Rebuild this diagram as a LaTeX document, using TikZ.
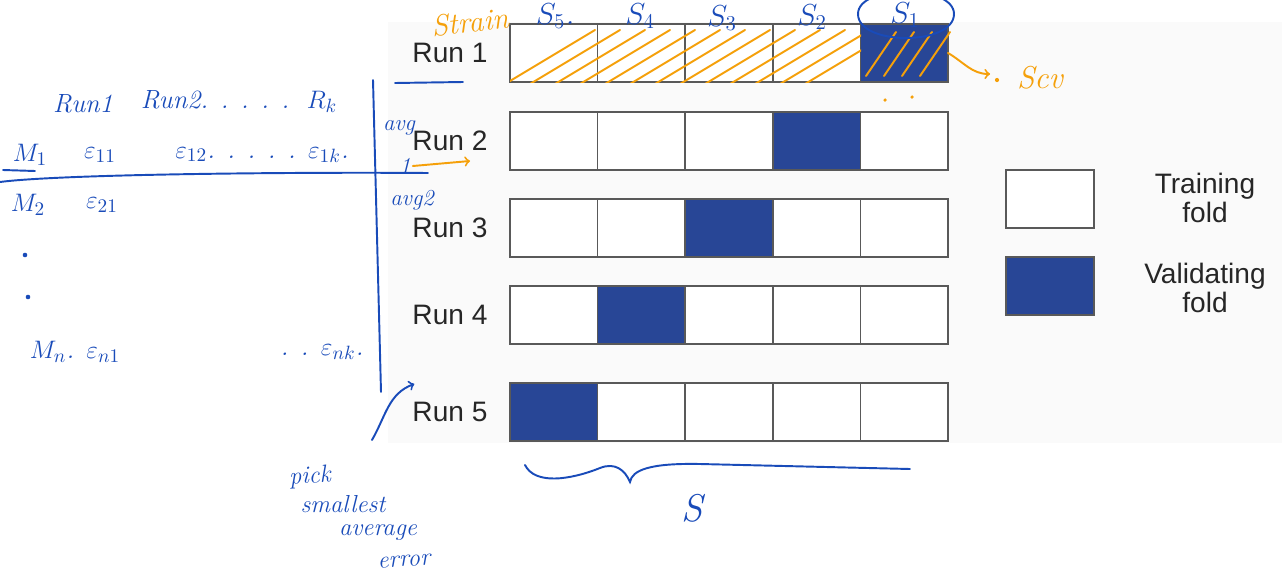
\documentclass[tikz,border=0pt]{standalone}
\usepackage{fontspec}
\setsansfont{Liberation Sans}
\usetikzlibrary{positioning}

\definecolor{valblue}{RGB}{40,70,150}
\definecolor{ink}{RGB}{25,75,185}
\definecolor{marker}{RGB}{245,160,10}
\definecolor{paper}{RGB}{250,250,250}

\begin{document}
\begin{tikzpicture}[
  x=0.02cm, y=-0.02cm,
  fold/.style={draw=black!65,line width=0.9pt,minimum width=1.752cm,minimum height=1.16cm,inner sep=0pt,outer sep=0pt},
  trainfold/.style={fold,fill=white},
  valfold/.style={fold,fill=valblue},
  runlabel/.style={font=\sffamily\fontsize{16}{18}\selectfont,text=black!85},
  legendtext/.style={font=\sffamily\fontsize{16}{17}\selectfont,align=center,text=black!85},
  hand/.style={font=\itshape\fontsize{15}{17}\selectfont,text=ink,inner sep=1pt},
  handor/.style={hand,text=marker},
  pen/.style={draw=ink,line width=1.1pt,line cap=round},
  hl/.style={draw=marker,line width=1.1pt,line cap=round}
]
  \useasboundingbox (0,0) rectangle (1282,575);
  \fill[paper] (388,22) rectangle (1282,443);

  % folds, one row per run
  \foreach \r/\y in {1/53,2/141,3/228,4/315,5/412} {
    \node[runlabel] (run\r) at (450,\y) {Run \r};
    \foreach \c in {1,...,5} {
      \pgfmathtruncatemacro\v{6-\r}
      \ifnum\c=\v
        \node[valfold] (f\r\c) at ({510+87.6*(\c-0.5)},\y) {};
      \else
        \node[trainfold] (f\r\c) at ({510+87.6*(\c-0.5)},\y) {};
      \fi
    }
  }

  % legend
  \node[trainfold] (legtrain) at (1050,199) {};
  \node[valfold] (legval) at (1050,286) {};
  \node[legendtext] (legtraintxt) at (1205,198) {Training\\fold};
  \node[legendtext] (legvaltxt) at (1205,288) {Validating\\fold};

  % orange marks on run 1
  \begin{scope}
    \clip (510,26) rectangle (861,82);
    \foreach \s in {505,530,...,805}
      \draw[hl] (\s,84) -- (\s+90,30);
  \end{scope}
  \foreach \s in {866,884,...,920}
    \draw[hl] (\s,76) -- (\s+30,32);
  \node[handor,font=\itshape\fontsize{17}{19}\selectfont,rotate=6] (strain) at (470,22) {Strain};
  \coordinate (scvtip) at (990,74);
  \draw[hl,->] (f15.east) to[out=-30,in=180] (scvtip);
  \fill[marker] (997,80) circle (1.2pt);
  \node[handor,font=\itshape\fontsize{18}{20}\selectfont] (scv) at (1040,78) {Scv};
  \fill[marker] (885,100) circle (1pt);
  \fill[marker] (912,97) circle (1pt);

  % fold names
  \node[hand,font=\itshape\fontsize{17}{19}\selectfont] (s5) at (555,16) {$S_5$.};
  \node[hand,font=\itshape\fontsize{17}{19}\selectfont] (s4) at (640,16) {$S_4$};
  \node[hand,font=\itshape\fontsize{17}{19}\selectfont] (s3) at (722,18) {$S_3$};
  \node[hand,font=\itshape\fontsize{17}{19}\selectfont] (s2) at (812,17) {$S_2$};
  \node[hand,font=\itshape\fontsize{17}{19}\selectfont] (s1) at (905,15) {$S_1$};
  \draw[pen] (858,14) .. controls (858,-16) and (954,-16) .. (954,14)
    .. controls (954,46) and (858,46) .. (858,14);
  \draw[pen] (395,83) -- (463,82);

  % error table
  \node[hand] (hrun1) at (83,104) {Run1};
  \node[hand] (hrun2) at (215,100) {Run2. . . . .};
  \node[hand] (hrk) at (322,102) {$R_k$};
  \node[hand] (m1) at (30,155) {$M_1$};
  \node[hand] (e11) at (100,155) {$\varepsilon_{11}$};
  \node[hand] (e1k) at (262,155) {$\varepsilon_{12}$. . . . . $\varepsilon_{1k}$.};
  \node[hand] (m2) at (28,205) {$M_2$};
  \node[hand] (e21) at (102,205) {$\varepsilon_{21}$};
  \fill[ink] (25,255) circle (1.3pt);
  \fill[ink] (28,297) circle (1.3pt);
  \node[hand] (mn) at (75,352) {$M_n$. $\varepsilon_{n1}$};
  \node[hand] (enk) at (322,352) {. . $\varepsilon_{nk}$.};
  \draw[pen] (3,170) -- (35,171);
  \draw[pen] (0,182) .. controls (60,174) and (300,172) .. (428,173);
  \draw[pen] (373,80) -- (381,392);
  \node[hand,font=\itshape\fontsize{13}{15}\selectfont] (avgone) at (399,128) {avg};
  \node[hand,font=\itshape\fontsize{13}{15}\selectfont] (one) at (405,166) {1};
  \node[hand,font=\itshape\fontsize{13}{15}\selectfont] (avgtwo) at (412,200) {avg2};
  \coordinate (avgtip) at (470,161);
  \draw[hl,->] (one.east) -- (avgtip);

  % choice
  \node[hand,rotate=4,font=\itshape\fontsize{14}{16}\selectfont] (pick) at (310,477) {pick};
  \node[hand,font=\itshape\fontsize{14}{16}\selectfont] (smallest) at (343,504) {smallest};
  \node[hand,font=\itshape\fontsize{14}{16}\selectfont] (average) at (378,533) {average};
  \node[hand,rotate=4,font=\itshape\fontsize{14}{16}\selectfont] (error) at (404,561) {error};
  \coordinate (picktail) at (372,440);
  \draw[pen,->] (picktail) to[out=60,in=200] ([shift={(8,-12)}]run5.north west);

  % brace over S
  \draw[pen] (525,465) .. controls (535,485) and (570,480) .. (600,468)
    .. controls (615,462) and (625,470) .. (630,482)
    .. controls (632,470) and (650,463) .. (700,464) -- (910,469);
  \node[hand,font=\itshape\fontsize{22}{24}\selectfont] (ssize) at (692,508) {S};
\end{tikzpicture}
\end{document}
